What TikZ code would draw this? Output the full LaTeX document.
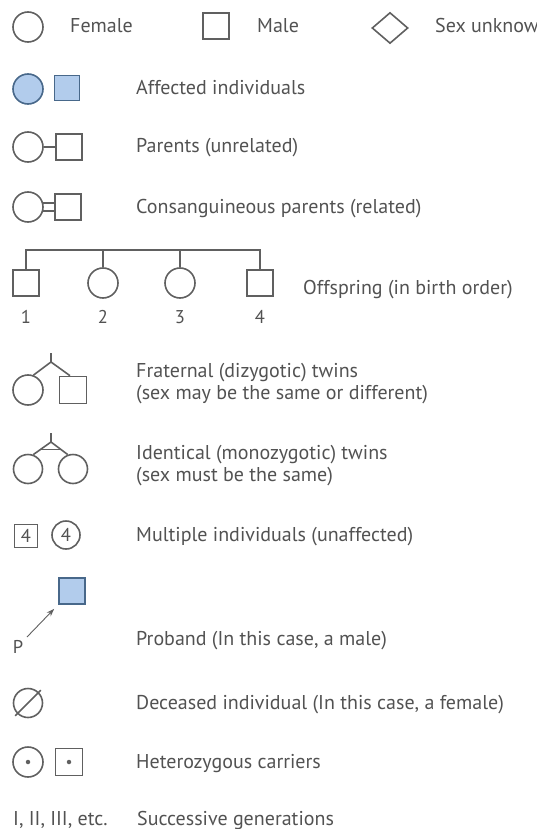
\documentclass[tikz,border=0pt]{standalone}
\usepackage{fontspec}
\setmainfont{PT Sans}
\usetikzlibrary{shapes.geometric,arrows.meta,calc}

\definecolor{linegray}{RGB}{96,96,96}
\definecolor{textgray}{RGB}{82,82,82}
\definecolor{affblue}{RGB}{178,204,236}
\definecolor{affedge}{RGB}{72,104,138}

\tikzset{
  sym/.style={draw=linegray, line width=1.6pt, inner sep=0pt},
  female/.style={sym, circle, minimum size=#1},
  female/.default=30pt,
  male/.style={sym, rectangle, minimum size=#1},
  male/.default=26pt,
  unknown/.style={sym, diamond, minimum width=36pt, minimum height=31pt},
  affected/.style={fill=affblue, draw=affedge},
  conn/.style={draw=linegray, line width=1.6pt},
  lbl/.style={anchor=base west, text=textgray, inner sep=0pt,
    font=\fontsize{20}{23}\selectfont},
  num/.style={text=textgray, inner sep=0pt, font=\fontsize{18.5}{20}\selectfont},
  dotmark/.style={fill=linegray, circle, inner sep=0pt, minimum size=4.5pt}
}

\begin{document}
\begin{tikzpicture}[x=1pt, y=-1pt]
\clip (0,0) rectangle (536,829);

% --- basic symbols
\node[female] (fem) at (28,27) {};
\node[lbl] (tfem) at (70,33) {Female};
\node[male] (mal) at (216,26) {};
\node[lbl] (tmal) at (257,33) {Male};
\node[unknown] (unk) at (390,28) {};
\node[lbl] (tunk) at (435,33) {Sex unknown};

% --- affected
\node[female, affected] (afem) at (28,89) {};
\node[male=25pt, affected] (amal) at (67,88) {};
\node[lbl] (taff) at (136,95) {Affected individuals};

% --- parents
\node[female] (pfem) at (28,147) {};
\node[male] (pmal) at (69,147) {};
\draw[conn] (pfem.east) -- (pmal.west);
\node[lbl] (tpar) at (136,153) {Parents (unrelated)};

% --- consanguineous parents
\node[female] (cfem) at (28,207) {};
\node[male] (cmal) at (68,207) {};
\draw[conn] (cfem.15) -- (cfem.15 -| cmal.west);
\draw[conn] (cfem.-15) -- (cfem.-15 -| cmal.west);
\node[lbl] (tcon) at (136,213) {Consanguineous parents (related)};

% --- offspring in birth order
\node[male] (o1) at (26,283) {};
\node[female] (o2) at (103,283) {};
\node[female] (o3) at (180,283) {};
\node[male] (o4) at (260,283) {};
\coordinate (sib) at (0,250);
\draw[conn] (o1.north) -- (o1.north |- sib) -- (o4.north |- sib) -- (o4.north);
\draw[conn] (o2.north) -- (o2.north |- sib);
\draw[conn] (o3.north) -- (o3.north |- sib);
\node[num] (n1) at (26,317) {1};
\node[num] (n2) at (103,317) {2};
\node[num] (n3) at (180,317) {3};
\node[num] (n4) at (260,317) {4};
\node[lbl] (toff) at (303,294) {Offspring (in birth order)};

% --- fraternal twins
\coordinate (fj) at (51,362);
\coordinate (fs) at (51,353);
\node[female] (ft1) at (28,390) {};
\node[male=27pt] (ft2) at (73,390) {};
\draw[conn] (fs) -- (fj);
\draw[conn] (ft1.70) -- (fj) -- ([xshift=-3pt]ft2.north);
\node[lbl] (tfra1) at (136,377) {Fraternal (dizygotic) twins};
\node[lbl] (tfra2) at (136,399) {(sex may be the same or different)};

% --- identical twins
\coordinate (ij) at (51,442);
\coordinate (is) at (51,433);
\node[female=29pt] (it1) at (28,469) {};
\node[female=29pt] (it2) at (73,469) {};
\draw[conn] (is) -- (ij);
\draw[conn] (it1.70) -- (ij) -- (it2.110);
\draw[conn] ($(ij)!0.6!(it1.70)$) -- ($(ij)!0.6!(it2.110)$);
\node[lbl] (tide1) at (136,459) {Identical (monozygotic) twins};
\node[lbl] (tide2) at (136,481) {(sex must be the same)};

% --- multiple individuals
\node[male=23pt, num] (mm) at (26,536) {4};
\node[female=28pt, num] (mf) at (66,535) {4};
\node[lbl] (tmul) at (136,541) {Multiple individuals (unaffected)};

% --- proband
\node[male, affected] (pro) at (72,591) {};
\node[num] (plab) at (18,647) {P};
\coordinate (ptail) at (27,637);
\draw[draw=linegray, line width=0.9pt, -{Stealth[length=8pt, width=5.5pt]}]
  (ptail) -- ([shift={(-4pt,-4pt)}]pro.south west);
\node[lbl] (tpro) at (136,645) {Proband (In this case, a male)};

% --- deceased
\node[female=29pt] (dec) at (28,703) {};
\draw[conn] ([shift={(-2pt,-2pt)}]dec.-135) -- ([shift={(2pt,2pt)}]dec.45);
\node[lbl] (tdec) at (136,709) {Deceased individual (In this case, a female)};

% --- carriers
\node[female] (hfem) at (28,762) {};
\node[dotmark] at (hfem.center) {};
\node[male=27pt] (hmal) at (69,762) {};
\node[dotmark] at (hmal.center) {};
\node[lbl] (thet) at (136,768) {Heterozygous carriers};

% --- generations
\node[lbl] (tgen) at (13,825) {I, II, III, etc.};
\node[lbl] (tsuc) at (137,825) {Successive generations};
\end{tikzpicture}
\end{document}
